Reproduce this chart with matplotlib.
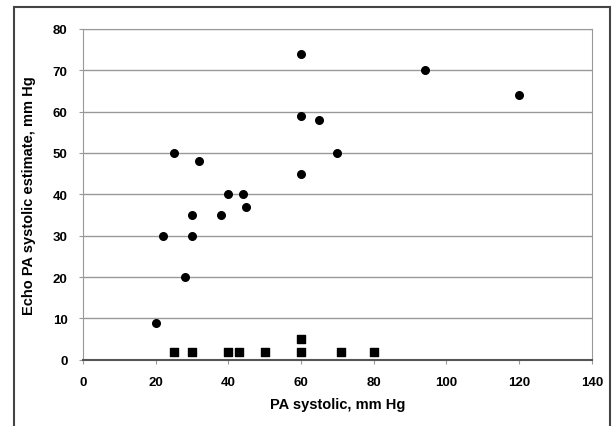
import matplotlib
matplotlib.use("Agg")
import matplotlib.pyplot as plt
from matplotlib.patches import Rectangle

plt.rcParams['font.family'] = ['Liberation Sans', 'DejaVu Sans']

# circles: detectable echo estimate
circle_x = [20, 22, 25, 28, 30, 30, 32, 38, 40, 44, 45, 60, 60, 60, 65, 70, 94, 120]
circle_y = [9, 30, 50, 20, 30, 35, 48, 35, 40, 40, 37, 74, 59, 45, 58, 50, 70, 64]

# squares: no estimate
square_x = [25, 30, 40, 43, 50, 60, 60, 71, 80]
square_y = [2, 2, 2, 2, 2, 2, 5, 2, 2]

x_ticks = [0, 20, 40, 60, 80, 100, 120, 140]
y_ticks = [0, 10, 20, 30, 40, 50, 60, 70, 80]

fig = plt.figure(figsize=(6.14, 4.27), dpi=100)
ax = fig.add_axes([0.135, 0.155, 0.829, 0.775])

# outer frame
fig.patches.append(Rectangle((14 / 614, -0.05), 596 / 614, 1.05 - 8 / 427,
                             transform=fig.transFigure, fill=False,
                             edgecolor='#444444', lw=1.5))

ax.scatter(circle_x, circle_y, marker='o', s=30, color='black', zorder=3)
ax.scatter(square_x, square_y, marker='s', s=34, color='black', zorder=3)

ax.set_xlim(0, 140)
ax.set_ylim(0, 80)
ax.set_xticks(x_ticks)
ax.set_yticks(y_ticks)
ax.yaxis.grid(True, color='#999999', lw=1)
ax.set_axisbelow(True)

for side in ['top', 'right', 'left']:
    ax.spines[side].set_color('#999999')
ax.spines['bottom'].set_color('#555555')
ax.spines['bottom'].set_linewidth(1.5)

ax.tick_params(direction='out', length=3, color='#999999', labelsize=9.5)
ax.tick_params(axis='x', pad=9)
ax.tick_params(axis='y', pad=8)
for lbl in ax.get_xticklabels() + ax.get_yticklabels():
    lbl.set_fontweight('bold')

ax.set_xlabel("PA systolic, mm Hg", fontsize=10.5, fontweight='bold', labelpad=6)
ax.set_ylabel("Echo PA systolic estimate, mm Hg", fontsize=10.5, fontweight='bold', labelpad=12)

fig.savefig("out.png", dpi=100)
